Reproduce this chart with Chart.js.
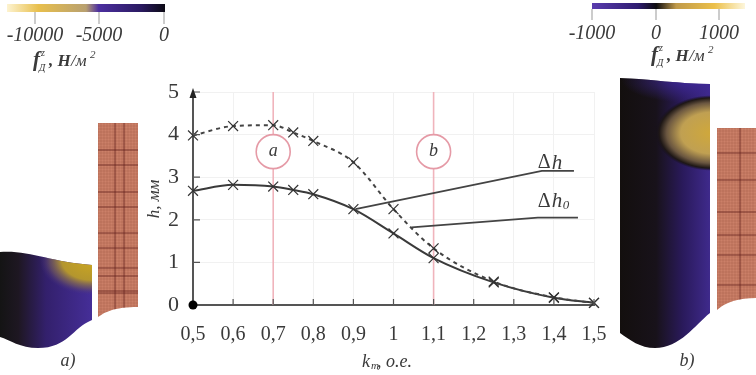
<!DOCTYPE html>
<html>
<head>
<meta charset="utf-8">
<script src="https://cdn.jsdelivr.net/npm/chart.js@4/dist/chart.umd.min.js"></script>
<style>
  html, body { margin: 0; background: #fff; }
  canvas { display: block; filter: blur(0.45px); }
</style>
</head>
<body>
<canvas id="chart" width="756" height="375"></canvas>
<script>
// values
const kValues = [0.5, 0.6, 0.7, 0.75, 0.8, 0.9, 1.0, 1.1, 1.25, 1.4, 1.5];
const deltaH = [3.98, 4.2, 4.22, 4.05, 3.85, 3.35, 2.25, 1.33, 0.55, 0.18, 0.05];
const deltaH0 = [2.68, 2.82, 2.78, 2.7, 2.6, 2.25, 1.68, 1.1, 0.53, 0.17, 0.05];
const markedK = [0.7, 1.1];
const markedNames = ["a", "b"];
const leaderH = [[0.905, 2.25], [1.37, 3.15], [1.45, 3.15]];
const leaderH0 = [[1.045, 1.82], [1.36, 2.05], [1.46, 2.05]];
const barTicksA = ["-10000", "-5000", "0"];
const barTicksB = ["-1000", "0", "1000"];

const INK = "#3a3a3a";
const PINK = "#f0b4bc";

function xy(pts) {
  return pts.map(p => ({ x: p[0], y: p[1] }));
}

function tickText(v) {
  const s = v.toFixed(1);
  return s === "1.0" ? "1" : s.replace(".", ",");
}

// coloured field shapes and copper blocks either side of the plot
function fieldA(ctx) {
  ctx.save();
  ctx.beginPath();
  ctx.moveTo(0, 252);
  ctx.bezierCurveTo(30, 250, 50, 262, 92, 265);
  ctx.lineTo(92, 320);
  ctx.bezierCurveTo(72, 328, 68, 348, 38, 348);
  ctx.bezierCurveTo(20, 348, 10, 340, 0, 337);
  ctx.closePath();
  ctx.clip();
  let g = ctx.createLinearGradient(0, 0, 92, 0);
  g.addColorStop(0, "#141414");
  g.addColorStop(0.2, "#1e1722");
  g.addColorStop(0.5, "#33206c");
  g.addColorStop(1, "#452e98");
  ctx.fillStyle = g;
  ctx.fillRect(0, 245, 95, 105);
  ctx.translate(92, 260);
  ctx.scale(1.5, 1);
  g = ctx.createRadialGradient(0, 0, 2, 0, 0, 35);
  g.addColorStop(0, "#c9a522");
  g.addColorStop(0.55, "#b4962e");
  g.addColorStop(0.8, "rgba(120,95,90,0.6)");
  g.addColorStop(1, "rgba(70,50,130,0)");
  ctx.fillStyle = g;
  ctx.fillRect(-70, -20, 80, 60);
  ctx.restore();
}

function fieldB(ctx) {
  ctx.save();
  ctx.beginPath();
  ctx.moveTo(620, 78);
  ctx.bezierCurveTo(650, 79, 680, 84, 710, 84);
  ctx.lineTo(710, 313);
  ctx.bezierCurveTo(695, 325, 680, 348, 655, 348);
  ctx.bezierCurveTo(640, 348, 630, 340, 620, 333);
  ctx.closePath();
  ctx.clip();
  let g = ctx.createLinearGradient(620, 0, 710, 0);
  g.addColorStop(0, "#130f0e");
  g.addColorStop(0.4, "#18121a");
  g.addColorStop(0.7, "#2a1a5c");
  g.addColorStop(1, "#3f2a8c");
  ctx.fillStyle = g;
  ctx.fillRect(615, 75, 100, 280);
  // indigo along the top edge
  ctx.save();
  ctx.translate(690, 80);
  ctx.scale(1.8, 0.6);
  g = ctx.createRadialGradient(0, 0, 0, 0, 0, 38);
  g.addColorStop(0, "rgba(62,40,150,1)");
  g.addColorStop(1, "rgba(62,40,150,0)");
  ctx.fillStyle = g;
  ctx.fillRect(-50, -40, 100, 80);
  ctx.restore();
  // dark halo, then the gold patch against the right edge
  ctx.save();
  ctx.translate(712, 133);
  ctx.scale(1.35, 0.9);
  g = ctx.createRadialGradient(0, 0, 0, 0, 0, 42);
  g.addColorStop(0, "#d0a83a");
  g.addColorStop(0.55, "#c0a052");
  g.addColorStop(0.8, "#6a5640");
  g.addColorStop(0.93, "#1e1716");
  g.addColorStop(1, "rgba(20,15,25,0)");
  ctx.fillStyle = g;
  ctx.fillRect(-70, -50, 75, 100);
  ctx.restore();
  ctx.restore();
}

function copper(ctx, outline, x0, x1, y0, y1, boldX, boldY) {
  ctx.save();
  outline(ctx);
  ctx.clip();
  ctx.fillStyle = "#cb8068";
  ctx.fillRect(x0, y0, x1 - x0, y1 - y0);
  ctx.strokeStyle = "rgba(120,50,35,0.28)";
  ctx.lineWidth = 0.6;
  ctx.beginPath();
  for (let x = x0; x < x1; x += 3) { ctx.moveTo(x, y0); ctx.lineTo(x, y1); }
  for (let y = y0; y < y1; y += 3) { ctx.moveTo(x0, y); ctx.lineTo(x1, y); }
  ctx.stroke();
  ctx.strokeStyle = "rgba(95,30,25,0.7)";
  ctx.lineWidth = 1;
  ctx.beginPath();
  boldX.forEach(x => { ctx.moveTo(x, y0); ctx.lineTo(x, y1); });
  boldY.forEach(y => { ctx.moveTo(x0, y); ctx.lineTo(x1, y); });
  ctx.stroke();
  ctx.restore();
}

function colorBar(ctx, x0, x1, y0, y1, stops, tickX, labels, labelY, tickEnd) {
  const g = ctx.createLinearGradient(x0, 0, x1, 0);
  stops.forEach(s => g.addColorStop(s[0], s[1]));
  ctx.fillStyle = g;
  ctx.fillRect(x0, y0, x1 - x0, y1 - y0);
  ctx.strokeStyle = "#999";
  ctx.lineWidth = 1;
  ctx.fillStyle = INK;
  ctx.font = "italic 20px 'Liberation Serif'";
  ctx.textAlign = "center";
  ctx.textBaseline = "middle";
  tickX.forEach((x, i) => {
    ctx.beginPath();
    ctx.moveTo(x, y1);
    ctx.lineTo(x, tickEnd);
    ctx.stroke();
    ctx.fillText(labels[i], x, labelY);
  });
}

function forceTitle(ctx, x, y) {
  ctx.save();
  ctx.fillStyle = INK;
  ctx.textBaseline = "alphabetic";
  ctx.textAlign = "left";
  ctx.font = "italic bold 21px 'Liberation Serif'";
  ctx.fillText("f", x, y);
  ctx.font = "italic 10px 'Liberation Serif'";
  ctx.fillText("Д", x + 6, y + 5);
  ctx.fillText("z", x + 8, y - 10);
  ctx.font = "italic bold 17px 'Liberation Serif'";
  ctx.fillText(", Н", x + 16, y);
  ctx.font = "italic 17px 'Liberation Serif'";
  ctx.fillText("/м", x + 38, y);
  ctx.font = "italic 11px 'Liberation Serif'";
  ctx.fillText("2", x + 57, y - 8);
  ctx.restore();
}

const scenery = {
  id: "scenery",
  beforeDraw(chart) {
    const ctx = chart.ctx;
    ctx.save();
    colorBar(ctx, 7, 165, 4, 12,
      [[0, "#fdf3d0"], [0.2, "#e8bf4c"], [0.5, "#b8a070"], [0.58, "#4c2fa0"], [0.85, "#2a1a60"], [1, "#0c0a14"]],
      [35, 99, 164], barTicksA, 36, 24);
    forceTitle(ctx, 33, 66);
    colorBar(ctx, 592, 745, 3, 9,
      [[0, "#5a3cae"], [0.3, "#2e1c70"], [0.42, "#0e0c10"], [0.55, "#c09a4a"], [0.8, "#ecc04a"], [1, "#fdf6dc"]],
      [592, 656, 719], barTicksB, 34, 20);
    forceTitle(ctx, 651, 61);

    fieldA(ctx);
    fieldB(ctx);
    copper(ctx, c => {
      c.beginPath();
      c.moveTo(98, 123);
      c.lineTo(138, 123);
      c.lineTo(138, 307);
      c.quadraticCurveTo(112, 306, 98, 317);
      c.closePath();
    }, 98, 138, 123, 318,
      [115, 124],
      [150, 165, 192, 207, 233, 248, 268, 276, 291, 293]);
    copper(ctx, c => {
      c.beginPath();
      c.moveTo(717, 128);
      c.lineTo(756, 128);
      c.lineTo(756, 298);
      c.quadraticCurveTo(730, 298, 717, 310);
      c.closePath();
    }, 717, 756, 128, 312,
      [740],
      [153, 180, 212, 235, 255, 285]);

    ctx.fillStyle = INK;
    ctx.font = "italic 18px 'Liberation Serif'";
    ctx.textAlign = "center";
    ctx.textBaseline = "middle";
    ctx.fillText("a)", 68, 361);
    ctx.fillText("b)", 687, 361);
    ctx.restore();
  },
  afterDatasetsDraw(chart) {
    const ctx = chart.ctx;
    const sx = chart.scales.x;
    const sy = chart.scales.y;
    ctx.save();
    ctx.strokeStyle = "#555";
    ctx.textAlign = "center";
    ctx.textBaseline = "middle";

    // small inward ticks
    ctx.lineWidth = 1.2;
    ctx.beginPath();
    sx.ticks.forEach(t => {
      const x = sx.getPixelForValue(t.value);
      ctx.moveTo(x, sy.bottom);
      ctx.lineTo(x, sy.bottom - 6);
    });
    sy.ticks.forEach(t => {
      const y = sy.getPixelForValue(t.value);
      ctx.moveTo(sx.left, y);
      ctx.lineTo(sx.left + 7, y);
    });
    ctx.stroke();

    // axis arrow and origin dot
    ctx.fillStyle = "#222";
    ctx.beginPath();
    ctx.moveTo(sx.left, sy.top - 4);
    ctx.lineTo(sx.left - 3.5, sy.top + 6);
    ctx.lineTo(sx.left + 3.5, sy.top + 6);
    ctx.closePath();
    ctx.fill();
    ctx.fillStyle = "#000";
    ctx.beginPath();
    ctx.arc(sx.left, sy.bottom, 4.5, 0, Math.PI * 2);
    ctx.fill();

    // circle letters
    ctx.fillStyle = INK;
    ctx.font = "italic 18px 'Liberation Serif'";
    markedK.forEach((k, i) => {
      ctx.fillText(markedNames[i], sx.getPixelForValue(k), sy.getPixelForValue(3.6));
    });

    // curve names
    ctx.textAlign = "left";
    const hx = sx.getPixelForValue(1.36);
    const hy = sy.getPixelForValue(3.33);
    const h0y = sy.getPixelForValue(2.42);
    ctx.font = "20px 'Liberation Serif'";
    ctx.fillText("Δ", hx, hy);
    ctx.fillText("Δ", hx, h0y);
    ctx.font = "italic 21px 'Liberation Serif'";
    ctx.fillText("h", hx + 14, hy);
    ctx.fillText("h", hx + 14, h0y);
    ctx.font = "italic 13px 'Liberation Serif'";
    ctx.fillText("0", hx + 25, h0y + 4);

    // axis names
    ctx.font = "italic 18px 'Liberation Serif'";
    ctx.fillText("k", 362, 362);
    ctx.font = "italic 11px 'Liberation Serif'";
    ctx.fillText("т", 371, 366);
    ctx.font = "italic 18px 'Liberation Serif'";
    ctx.fillText(", о.е.", 377, 362);
    ctx.font = "italic 17px 'Liberation Serif'";
    ctx.translate(155, 199);
    ctx.rotate(-Math.PI / 2);
    ctx.textAlign = "center";
    ctx.fillText("h, мм", 0, 0);
    ctx.restore();
  }
};

new Chart(document.getElementById("chart"), {
  type: "line",
  data: {
    datasets: [
      {
        data: kValues.map((k, i) => ({ x: k, y: deltaH[i] })),
        borderColor: "#444",
        borderWidth: 2,
        borderDash: [4, 4],
        cubicInterpolationMode: "monotone",
        pointStyle: "crossRot",
        pointRadius: 7,
        pointBorderColor: "#333",
        pointBorderWidth: 1.2,
        order: 1
      },
      {
        data: kValues.map((k, i) => ({ x: k, y: deltaH0[i] })),
        borderColor: "#3a3a3a",
        borderWidth: 2,
        cubicInterpolationMode: "monotone",
        pointStyle: "crossRot",
        pointRadius: 7,
        pointBorderColor: "#333",
        pointBorderWidth: 1.2,
        order: 1
      },
      { data: xy(leaderH), borderColor: "#444", borderWidth: 1.8, pointRadius: 0, order: 2 },
      { data: xy(leaderH0), borderColor: "#444", borderWidth: 1.8, pointRadius: 0, order: 2 },
      ...markedK.map(k => ({
        data: [{ x: k, y: 0 }, { x: k, y: 5 }],
        borderColor: PINK,
        borderWidth: 1.6,
        pointRadius: 0,
        order: 3
      })),
      {
        data: markedK.map(k => ({ x: k, y: 3.6 })),
        showLine: false,
        pointStyle: "circle",
        pointRadius: 17,
        pointBackgroundColor: "#fff",
        pointBorderColor: "#e59aa6",
        pointBorderWidth: 1.6,
        order: 2
      }
    ]
  },
  options: {
    responsive: false,
    animation: false,
    clip: false,
    layout: { padding: { top: 92, right: 162 } },
    plugins: { legend: { display: false }, tooltip: { enabled: false } },
    scales: {
      x: {
        type: "linear",
        min: 0.5,
        max: 1.5,
        afterFit(scale) { scale.height = 70; },
        grid: { color: "#f1f1f1", drawTicks: false },
        border: { color: "#555", width: 2 },
        ticks: {
          stepSize: 0.1,
          padding: 18,
          maxRotation: 0,
          color: INK,
          font: { family: "'Liberation Serif'", size: 20 },
          callback: v => tickText(v)
        }
      },
      y: {
        min: 0,
        max: 5,
        afterFit(scale) { scale.width = 193; },
        grid: { color: "#f1f1f1", drawTicks: false },
        border: { color: "#555", width: 2 },
        ticks: {
          stepSize: 1,
          padding: 14,
          color: INK,
          font: { family: "'Liberation Serif'", size: 22 }
        }
      }
    }
  },
  plugins: [scenery]
});
</script>
</body>
</html>
